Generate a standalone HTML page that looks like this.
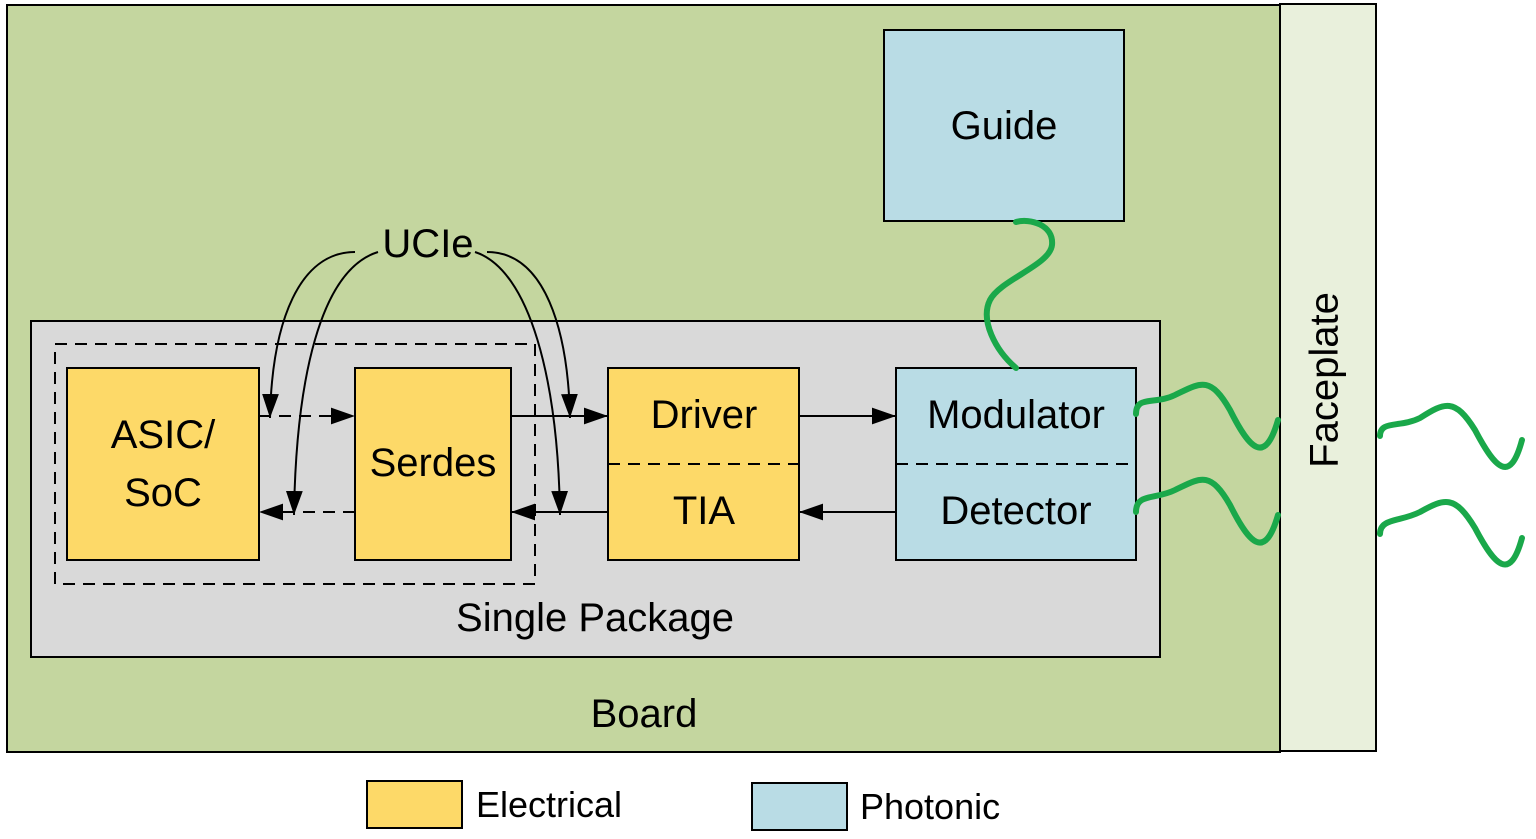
<!DOCTYPE html>
<html><head><meta charset="utf-8"><style>
html,body{margin:0;padding:0;background:#fff;}
svg{display:block;}
text{font-family:"Liberation Sans",sans-serif;fill:#000;}
</style></head><body>
<svg width="1536" height="839" viewBox="0 0 1536 839" xmlns="http://www.w3.org/2000/svg">
<defs>
<marker id="b" viewBox="0 0 20 14" refX="20" refY="7" markerWidth="24" markerHeight="17" markerUnits="userSpaceOnUse" orient="auto"><path d="M0,0 L20,7 L0,14 z" fill="#000"/></marker>
</defs>
<rect x="7" y="5" width="1273" height="747" fill="#c4d69f" stroke="#000" stroke-width="2"/>
<rect x="1280" y="4" width="96" height="747" fill="#e9f0dc" stroke="#000" stroke-width="2"/>
<text x="1327" y="380" font-size="40" text-anchor="middle" transform="rotate(-90 1327 380)" dominant-baseline="middle">Faceplate</text>
<rect x="884" y="30" width="240" height="191" fill="#b9dce5" stroke="#000" stroke-width="2"/>
<text x="1004" y="139" font-size="40" text-anchor="middle">Guide</text>
<rect x="31" y="321" width="1129" height="336" fill="#d9d9d9" stroke="#000" stroke-width="2"/>
<rect x="55" y="344" width="480" height="240" fill="none" stroke="#000" stroke-width="2" stroke-dasharray="12,8"/>
<rect x="67" y="368" width="192" height="192" fill="#fdd968" stroke="#000" stroke-width="2"/>
<text x="163" y="448" font-size="40" text-anchor="middle">ASIC/</text>
<text x="163" y="506" font-size="40" text-anchor="middle">SoC</text>
<rect x="355" y="368" width="156" height="192" fill="#fdd968" stroke="#000" stroke-width="2"/>
<text x="433" y="476" font-size="40" text-anchor="middle">Serdes</text>
<rect x="608" y="368" width="191" height="192" fill="#fdd968" stroke="#000" stroke-width="2"/>
<line x1="608" y1="464" x2="799" y2="464" stroke="#000" stroke-width="2" stroke-dasharray="12,8"/>
<text x="704" y="428" font-size="40" text-anchor="middle">Driver</text>
<text x="704" y="524" font-size="40" text-anchor="middle">TIA</text>
<rect x="896" y="368" width="240" height="192" fill="#b9dce5" stroke="#000" stroke-width="2"/>
<line x1="896" y1="464" x2="1136" y2="464" stroke="#000" stroke-width="2" stroke-dasharray="12,8"/>
<text x="1016" y="428" font-size="40" text-anchor="middle">Modulator</text>
<text x="1016" y="524" font-size="40" text-anchor="middle">Detector</text>
<line x1="259" y1="416" x2="355" y2="416" stroke="#000" stroke-width="2" stroke-dasharray="12,8" marker-end="url(#b)"/>
<line x1="355" y1="512" x2="259" y2="512" stroke="#000" stroke-width="2" stroke-dasharray="12,8" marker-end="url(#b)"/>
<line x1="511" y1="416" x2="608" y2="416" stroke="#000" stroke-width="2" marker-end="url(#b)"/>
<line x1="608" y1="512" x2="511" y2="512" stroke="#000" stroke-width="2" marker-end="url(#b)"/>
<line x1="799" y1="416" x2="896" y2="416" stroke="#000" stroke-width="2" marker-end="url(#b)"/>
<line x1="896" y1="512" x2="799" y2="512" stroke="#000" stroke-width="2" marker-end="url(#b)"/>
<text x="428" y="257" font-size="40" text-anchor="middle">UCIe</text>
<g fill="none" stroke="#000" stroke-width="2">
<path d="M355,252 C300,252 272,320 270,418" marker-end="url(#b)"/>
<path d="M378,252 C320,270 296,380 294,515" marker-end="url(#b)"/>
<path d="M487,252 C545,252 568,330 570,418" marker-end="url(#b)"/>
<path d="M475,252 C530,270 558,380 560,515" marker-end="url(#b)"/>
</g>
<text x="595" y="631" font-size="40" text-anchor="middle">Single Package</text>
<text x="644" y="727" font-size="40" text-anchor="middle">Board</text>
<g fill="none" stroke="#1aa84a" stroke-width="6" stroke-linecap="round">
<path d="M1016,368 C995,350 980,320 990,300 C1000,280 1050,265 1052,245 C1054,225 1030,218 1016,222"/>
<path d="M1136,414 C1136,395 1155,405 1175,395 C1200,383 1210,375 1230,410 C1250,450 1265,465 1278,420"/>
<path d="M1136,512 C1136,493 1155,500 1175,490 C1200,478 1210,470 1230,505 C1250,545 1265,560 1278,515"/>
<path d="M1380,436 C1380,420 1400,428 1420,418 C1445,402 1455,398 1475,430 C1495,468 1510,485 1522,440"/>
<path d="M1380,534 C1380,518 1400,522 1420,512 C1445,498 1455,495 1475,528 C1495,566 1510,582 1522,538"/>
</g>
<rect x="367" y="781" width="95" height="47" fill="#fdd968" stroke="#000" stroke-width="2"/>
<text x="476" y="817" font-size="36">Electrical</text>
<rect x="752" y="783" width="95" height="47" fill="#b9dce5" stroke="#000" stroke-width="2"/>
<text x="860" y="819" font-size="36">Photonic</text>
</svg>
</body></html>
